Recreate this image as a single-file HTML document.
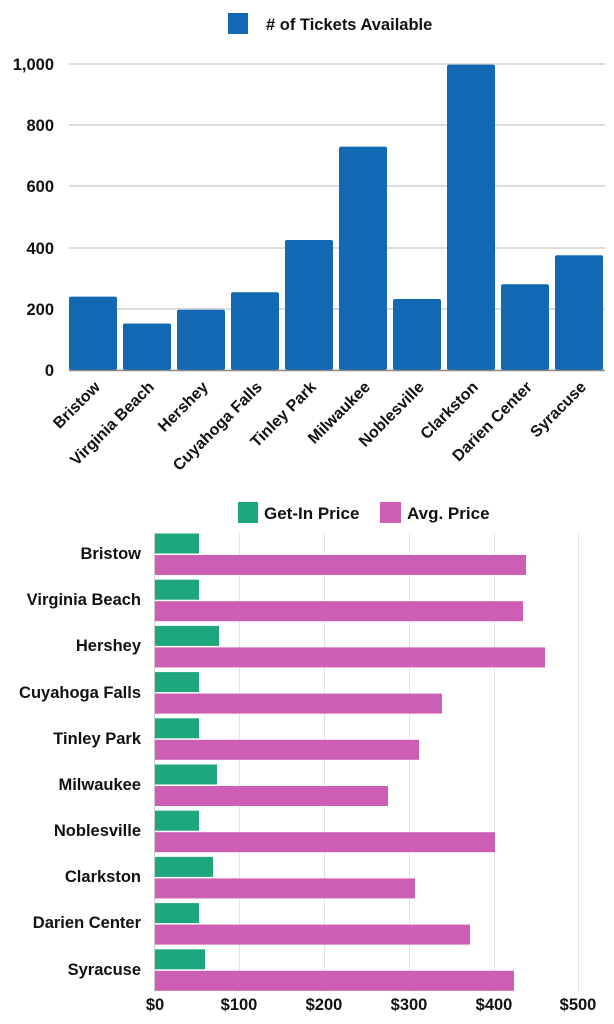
<!DOCTYPE html>
<html><head><meta charset="utf-8"><style>
html,body{margin:0;padding:0;background:#fff}
svg{display:block}
text{font-family:"Liberation Sans",Arial,sans-serif;font-weight:bold;fill:#111}
</style></head><body>
<svg width="614" height="1024" viewBox="0 0 614 1024" xmlns="http://www.w3.org/2000/svg">
<!-- Top chart -->
<rect x="228" y="13" width="20" height="21" fill="#1368b3"/>
<text x="266" y="30" font-size="16.5">#  of Tickets Available</text>
<g stroke="#d0d0d0" stroke-width="1.5">
<line x1="69" y1="64" x2="605" y2="64"/>
<line x1="69" y1="125" x2="605" y2="125"/>
<line x1="69" y1="186" x2="605" y2="186"/>
<line x1="69" y1="248" x2="605" y2="248"/>
<line x1="69" y1="309" x2="605" y2="309"/>
</g>
<g font-size="16.5" text-anchor="end">
<text x="54" y="70">1,000</text>
<text x="54" y="131">800</text>
<text x="54" y="192">600</text>
<text x="54" y="254">400</text>
<text x="54" y="315">200</text>
<text x="54" y="376">0</text>
</g>
<g fill="#1368b3">
<rect x="69" y="296.6" width="48" height="73.4" rx="2"/>
<rect x="123" y="323.5" width="48" height="46.5" rx="2"/>
<rect x="177" y="309.7" width="48" height="60.3" rx="2"/>
<rect x="231" y="292.3" width="48" height="77.7" rx="2"/>
<rect x="285" y="240" width="48" height="130" rx="2"/>
<rect x="339" y="146.6" width="48" height="223.4" rx="2"/>
<rect x="393" y="299" width="48" height="71" rx="2"/>
<rect x="447" y="64.6" width="48" height="305.4" rx="2"/>
<rect x="501" y="284.3" width="48" height="85.7" rx="2"/>
<rect x="555" y="255.3" width="48" height="114.7" rx="2"/>
</g>
<line x1="69" y1="370.5" x2="605" y2="370.5" stroke="#888" stroke-width="1.5"/>
<g font-size="16" text-anchor="end">
<text transform="translate(101,388) rotate(-45)">Bristow</text>
<text transform="translate(155,388) rotate(-45)">Virginia Beach</text>
<text transform="translate(209,388) rotate(-45)">Hershey</text>
<text transform="translate(263,388) rotate(-45)">Cuyahoga Falls</text>
<text transform="translate(317,388) rotate(-45)">Tinley Park</text>
<text transform="translate(371,388) rotate(-45)">Milwaukee</text>
<text transform="translate(425,388) rotate(-45)">Noblesville</text>
<text transform="translate(479,388) rotate(-45)">Clarkston</text>
<text transform="translate(533,388) rotate(-45)">Darien Center</text>
<text transform="translate(587,388) rotate(-45)">Syracuse</text>
</g>

<!-- Bottom chart -->
<rect x="238" y="502" width="20" height="21" fill="#1ea67e"/>
<text x="264" y="519" font-size="17">Get-In Price</text>
<rect x="380" y="502" width="21" height="21" fill="#cc5fb3"/>
<text x="407" y="519" font-size="17">Avg. Price</text>
<g stroke="#e2e2e2" stroke-width="1">
<line x1="239.5" y1="533" x2="239.5" y2="992"/>
<line x1="324.5" y1="533" x2="324.5" y2="992"/>
<line x1="409.5" y1="533" x2="409.5" y2="992"/>
<line x1="494.5" y1="533" x2="494.5" y2="992"/>
<line x1="578.5" y1="533" x2="578.5" y2="992"/>
</g>
<g font-size="16.5" text-anchor="middle">
<text x="155" y="1010">$0</text>
<text x="239" y="1010">$100</text>
<text x="324" y="1010">$200</text>
<text x="409" y="1010">$300</text>
<text x="494" y="1010">$400</text>
<text x="578" y="1010">$500</text>
</g>
<g fill="#1ea67e">
<rect x="154" y="533.5" width="45" height="20"/>
<rect x="154" y="579.7" width="45" height="20"/>
<rect x="154" y="625.9" width="65" height="20"/>
<rect x="154" y="672.1" width="45" height="20"/>
<rect x="154" y="718.3" width="45" height="20"/>
<rect x="154" y="764.5" width="63" height="20"/>
<rect x="154" y="810.7" width="45" height="20"/>
<rect x="154" y="856.9" width="59" height="20"/>
<rect x="154" y="903.1" width="45" height="20"/>
<rect x="154" y="949.3" width="51" height="20"/>
</g>
<g fill="#cc5fb3">
<rect x="154" y="555" width="372" height="20"/>
<rect x="154" y="601.2" width="369" height="20"/>
<rect x="154" y="647.4" width="391" height="20"/>
<rect x="154" y="693.6" width="288" height="20"/>
<rect x="154" y="739.8" width="265" height="20"/>
<rect x="154" y="786" width="234" height="20"/>
<rect x="154" y="832.2" width="341" height="20"/>
<rect x="154" y="878.4" width="261" height="20"/>
<rect x="154" y="924.6" width="316" height="20"/>
<rect x="154" y="970.8" width="360" height="20"/>
</g>
<line x1="154.5" y1="533" x2="154.5" y2="992" stroke="#ccc" stroke-width="1"/>
<g font-size="16.5" text-anchor="end">
<text x="141" y="559">Bristow</text>
<text x="141" y="605">Virginia Beach</text>
<text x="141" y="651">Hershey</text>
<text x="141" y="698">Cuyahoga Falls</text>
<text x="141" y="744">Tinley Park</text>
<text x="141" y="790">Milwaukee</text>
<text x="141" y="836">Noblesville</text>
<text x="141" y="882">Clarkston</text>
<text x="141" y="928">Darien Center</text>
<text x="141" y="975">Syracuse</text>
</g>
</svg>
</body></html>
